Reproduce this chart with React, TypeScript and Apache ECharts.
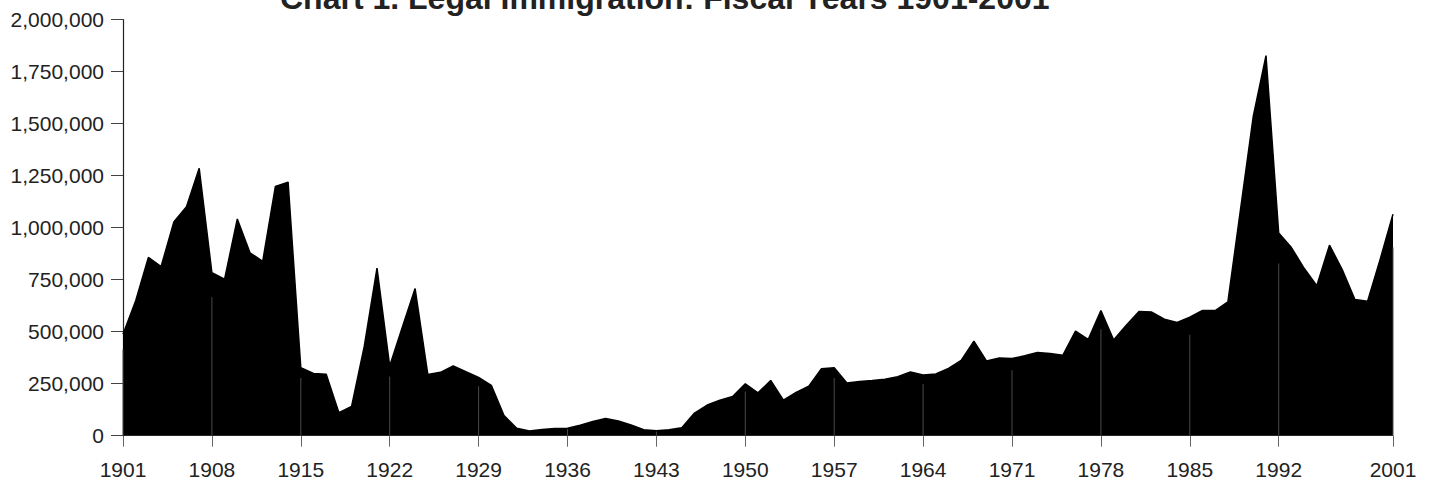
import React, { useEffect, useRef } from "react";
import * as echarts from "echarts";

const TITLE = "Chart 1. Legal Immigration: Fiscal Years 1901-2001";

const years: string[] = [
  "1901", "1902", "1903", "1904", "1905", "1906", "1907", "1908", "1909", "1910",
  "1911", "1912", "1913", "1914", "1915", "1916", "1917", "1918", "1919", "1920",
  "1921", "1922", "1923", "1924", "1925", "1926", "1927", "1928", "1929", "1930",
  "1931", "1932", "1933", "1934", "1935", "1936", "1937", "1938", "1939", "1940",
  "1941", "1942", "1943", "1944", "1945", "1946", "1947", "1948", "1949", "1950",
  "1951", "1952", "1953", "1954", "1955", "1956", "1957", "1958", "1959", "1960",
  "1961", "1962", "1963", "1964", "1965", "1966", "1967", "1968", "1969", "1970",
  "1971", "1972", "1973", "1974", "1975", "1976", "1977", "1978", "1979", "1980",
  "1981", "1982", "1983", "1984", "1985", "1986", "1987", "1988", "1989", "1990",
  "1991", "1992", "1993", "1994", "1995", "1996", "1997", "1998", "1999", "2000",
  "2001",
];

const immigrants: number[] = [
  487918, 648743, 857046, 812870, 1026499, 1100735, 1285349, 782870, 751786, 1041570,
  878587, 838172, 1197892, 1218480, 326700, 298826, 295403, 110618, 141132, 430001,
  805228, 335000, 522919, 706896, 294314, 304488, 335175, 307255, 279678, 241700,
  97139, 35576, 23068, 29470, 34956, 36329, 50244, 67895, 82998, 70756,
  51776, 28781, 23725, 28551, 38119, 108721, 147292, 170570, 188317, 249187,
  205717, 265520, 170434, 208177, 237790, 321625, 326867, 253265, 260686, 265398,
  271344, 283763, 306260, 292248, 296697, 323040, 361972, 454448, 358579, 373326,
  370478, 384685, 400063, 394861, 386194, 502289, 462315, 601442, 460348, 530639,
  596600, 594131, 559763, 543903, 570009, 601708, 601516, 643025, 1090172, 1535872,
  1826595, 973977, 904292, 804416, 720461, 915900, 798378, 654451, 646568, 849807,
  1064318,
];

const tickYears: string[] = [
  "1901", "1908", "1915", "1922", "1929", "1936", "1943", "1950",
  "1957", "1964", "1971", "1978", "1985", "1992", "2001",
];

const FONT = "'Liberation Sans', Arial, Helvetica, sans-serif";

export default function App() {
  const ref = useRef<HTMLDivElement>(null);

  useEffect(() => {
    if (!ref.current) return;
    const chart = echarts.init(ref.current, undefined, { renderer: "svg" });
    const isTick = (idx: number) => tickYears.indexOf(years[idx]) >= 0;
    const innerLines = immigrants.map((v, i) => (isTick(i) ? v * 0.85 : "-"));

    chart.setOption({
      animation: false,
      backgroundColor: "#ffffff",
      graphic: [
        {
          type: "text",
          x: 280,
          y: -2,
          style: {
            text: TITLE,
            font: `bold 32px ${FONT}`,
            fill: "#222222",
            align: "left",
            verticalAlign: "middle",
          },
        },
      ],
      grid: { left: 123, right: 38, top: 19.5, bottom: 45.3, containLabel: false },
      xAxis: {
        type: "category",
        data: years,
        boundaryGap: false,
        axisLine: { show: true, lineStyle: { color: "#999999", width: 1 } },
        axisTick: {
          show: true,
          length: 11,
          interval: (i: number) => isTick(i),
          lineStyle: { color: "#666666", width: 1 },
        },
        axisLabel: {
          interval: (i: number) => isTick(i),
          margin: 23,
          fontSize: 21,
          fontFamily: FONT,
          color: "#222222",
        },
        splitLine: { show: false },
      },
      yAxis: {
        type: "value",
        min: 0,
        max: 2000000,
        interval: 250000,
        axisLine: { show: true, lineStyle: { color: "#222222", width: 1.2 } },
        axisTick: { show: true, length: 12, lineStyle: { color: "#444444", width: 1 } },
        axisLabel: {
          margin: 19,
          fontSize: 21,
          fontFamily: FONT,
          color: "#222222",
          formatter: (v: number) => v.toLocaleString("en-US"),
        },
        splitLine: { show: false },
      },
      series: [
        {
          type: "line",
          data: immigrants,
          symbol: "none",
          lineStyle: { color: "#000000", width: 1.5 },
          areaStyle: { color: "#000000", opacity: 1 },
          z: 2,
        },
        {
          type: "bar",
          data: innerLines,
          barWidth: 1,
          itemStyle: { color: "#4a4a4a" },
          z: 3,
          silent: true,
        },
      ],
    });
    return () => chart.dispose();
  }, []);

  return (
    <div
      ref={ref}
      style={{ position: "fixed", left: 0, top: 0, width: 1431, height: 481 }}
    />
  );
}
